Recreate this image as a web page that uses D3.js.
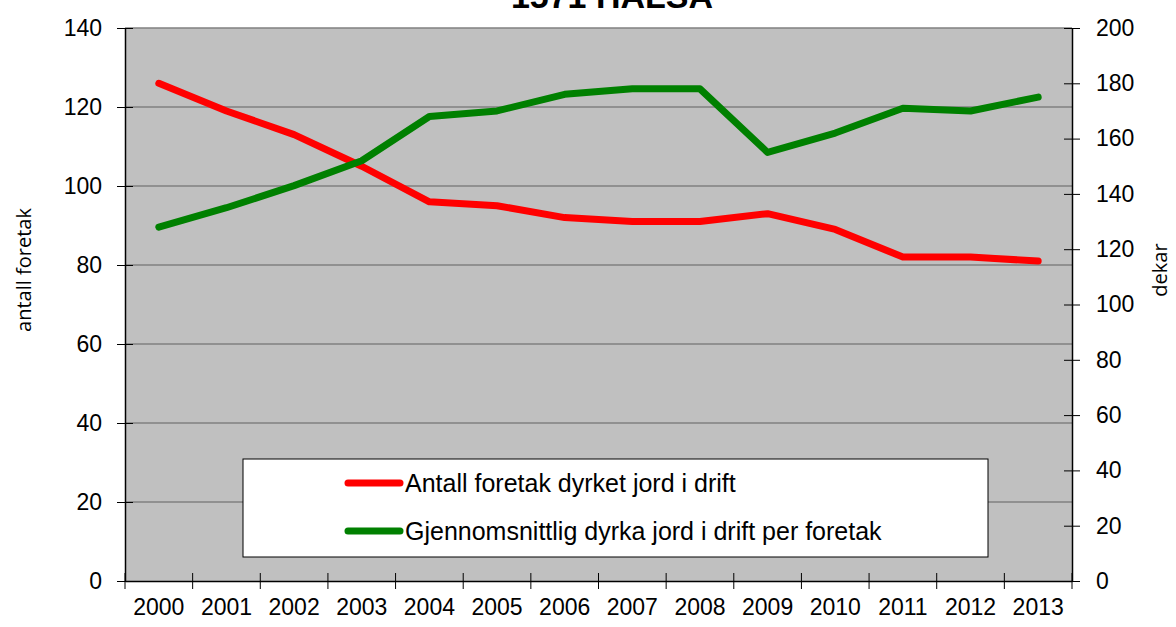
<!DOCTYPE html>
<html>
<head>
<meta charset="utf-8">
<script src="https://cdn.jsdelivr.net/npm/d3@7"></script>
<style>
  body { margin: 0; background: #fff; }
  text { font-family: "Liberation Sans", sans-serif; }
</style>
</head>
<body>
<div id="chart"></div>
<script>
// Data
const years = ["2000","2001","2002","2003","2004","2005","2006","2007","2008","2009","2010","2011","2012","2013"];
const antallForetak = [126, 119, 113, 105, 96, 95, 92, 91, 91, 93, 89, 82, 82, 81];
const snittDekar = [128, 135, 143, 152, 168, 170, 176, 178, 178, 155, 162, 171, 170, 175];
const leftTicks = [0, 20, 40, 60, 80, 100, 120, 140];
const rightTicks = [0, 20, 40, 60, 80, 100, 120, 140, 160, 180, 200];
const seriesNames = ["Antall foretak dyrket jord i drift", "Gjennomsnittlig dyrka jord i drift per foretak"];

const W = 1176, H = 627;
const margin = { top: 28, right: 104, bottom: 46, left: 125 };
const width = W - margin.left - margin.right;
const height = H - margin.top - margin.bottom;

const svg = d3.select("#chart").append("svg")
  .attr("width", W)
  .attr("height", H);

// title, mostly cut off at the top
svg.append("text")
  .attr("x", 612).attr("y", 8)
  .attr("text-anchor", "middle")
  .style("font-weight", "bold")
  .style("font-size", "34px")
  .text("1571 HALSA");

const g = svg.append("g").attr("transform", `translate(${margin.left},${margin.top})`);

const x = d3.scaleBand().domain(years).range([0, width]);
const yL = d3.scaleLinear().domain([0, 140]).range([height, 0]);
const yR = d3.scaleLinear().domain([0, 200]).range([height, 0]);

// plot background
g.append("rect")
  .attr("width", width).attr("height", height)
  .style("fill", "#c0c0c0");

// gridlines
g.selectAll(".grid").data(leftTicks.filter(d => d > 0)).enter()
  .append("line")
  .attr("x1", 0).attr("x2", width)
  .attr("y1", d => yL(d)).attr("y2", d => yL(d))
  .style("stroke", "#808080").style("stroke-width", 1.5);

// axes
const axL = g.append("g")
  .call(d3.axisLeft(yL).tickValues(leftTicks).tickSizeInner(8).tickSizeOuter(0).tickPadding(15));
const axR = g.append("g").attr("transform", `translate(${width},0)`)
  .call(d3.axisRight(yR).tickValues(rightTicks).tickSizeInner(8).tickSizeOuter(0).tickPadding(16));
const axB = g.append("g").attr("transform", `translate(0,${height})`)
  .call(d3.axisBottom(x).tickSize(0).tickPadding(18));

[axL, axR, axB].forEach(a => {
  a.select(".domain").style("stroke", "#000").style("stroke-width", 1.5);
  a.selectAll("text").style("font-size", "23px").style("fill", "#000")
    .style("font-family", "'Liberation Sans', sans-serif");
});
// ticks cross the axis line
axL.selectAll(".tick line").attr("x1", 8).attr("x2", -8).style("stroke", "#000");
axR.selectAll(".tick line").attr("x1", -8).attr("x2", 8).style("stroke", "#000");

// category boundary ticks on x axis
const bounds = years.map(d => x(d)).concat([width]);
g.selectAll(".xtick").data(bounds).enter()
  .append("line")
  .attr("x1", d => d).attr("x2", d => d)
  .attr("y1", height - 8).attr("y2", height + 8)
  .style("stroke", "#000").style("stroke-width", 1);

// lines
const cx = d => x(d) + x.bandwidth() / 2;
const lineL = d3.line().x((d, i) => cx(years[i])).y(d => yL(d));
const lineR = d3.line().x((d, i) => cx(years[i])).y(d => yR(d));

g.append("path").datum(antallForetak)
  .attr("d", lineL)
  .style("fill", "none").style("stroke", "#ff0000")
  .style("stroke-width", 7).style("stroke-linecap", "round").style("stroke-linejoin", "round");

g.append("path").datum(snittDekar)
  .attr("d", lineR)
  .style("fill", "none").style("stroke", "#008000")
  .style("stroke-width", 7).style("stroke-linecap", "round").style("stroke-linejoin", "round");

// legend
const lg = svg.append("g").attr("transform", "translate(243,459)");
lg.append("rect")
  .attr("width", 745).attr("height", 98)
  .style("fill", "#fff").style("stroke", "#000").style("stroke-width", 1);
const colors = ["#ff0000", "#008000"];
seriesNames.forEach((name, i) => {
  const yy = 24 + i * 48;
  lg.append("line")
    .attr("x1", 105).attr("x2", 157).attr("y1", yy).attr("y2", yy)
    .style("stroke", colors[i]).style("stroke-width", 7).style("stroke-linecap", "round");
  lg.append("text")
    .attr("x", 162).attr("y", yy + 9)
    .style("font-size", "25px")
    .text(name);
});

// axis titles
svg.append("text")
  .attr("transform", "translate(31,270) rotate(-90)")
  .attr("text-anchor", "middle")
  .style("font-family", "'Open Sans', sans-serif")
  .style("font-size", "20px")
  .text("antall foretak");

svg.append("text")
  .attr("transform", "translate(1167,270) rotate(-90)")
  .attr("text-anchor", "middle")
  .style("font-family", "'Open Sans', sans-serif")
  .style("font-size", "20px")
  .text("dekar");
</script>
</body>
</html>
